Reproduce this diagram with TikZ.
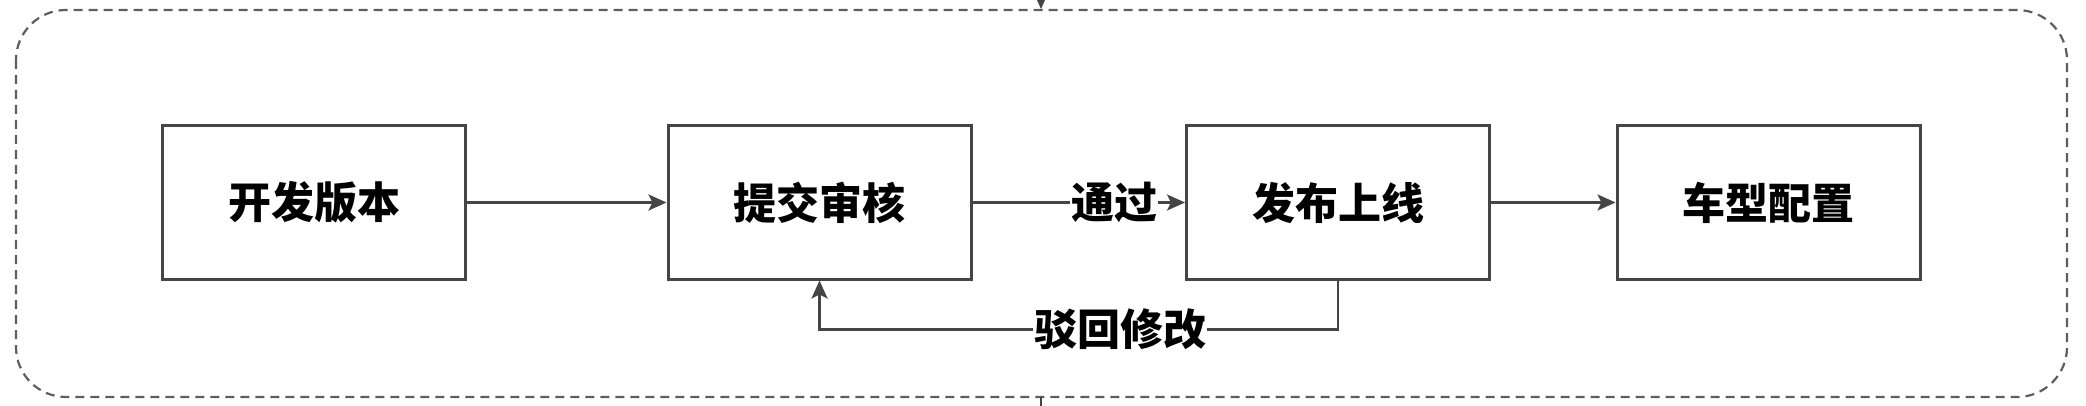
\documentclass[tikz,border=0pt]{standalone}
\usepackage{fontspec}
\newfontfamily\cjk{Noto Sans CJK SC}
\usetikzlibrary{arrows.meta,calc}
\definecolor{edgegray}{HTML}{454545}
\definecolor{dashgray}{HTML}{5E5E5E}
\tikzset{
  stepbox/.style={draw=edgegray, line width=1.5pt, fill=white, minimum width=151.5pt, minimum height=76.5pt, inner sep=0pt, font=\cjk\bfseries\fontsize{21.5}{26}\selectfont},
  arr/.style={draw=edgegray, line width=1.4pt, -{Stealth[length=9pt,width=8pt,inset=2pt]}},
  lbl/.style={fill=white, inner sep=0.5pt, font=\cjk\bfseries\fontsize{21.5}{26}\selectfont},
  group/.style={draw=dashgray, line width=1.1pt, dash pattern=on 4.5pt off 3pt, rounded corners=25pt}
}
\begin{document}
\begin{tikzpicture}[x=0.5pt,y=-0.5pt]
\useasboundingbox (0,0) rectangle (2086,406);
\draw[group] (16,10) rectangle (2067,397);
\node[stepbox] (b1) at (314,202.5) {开发版本};
\node[stepbox] (b2) at (819.5,202.5) {提交审核};
\node[stepbox] (b3) at (1338,202.5) {发布上线};
\node[stepbox] (b4) at (1768.5,202.5) {车型配置};
\draw[arr] (b1) -- (b2);
\draw[arr] (b2) -- node[lbl,pos=0.667] {通过} (b3);
\draw[arr] (b3) -- (b4);
\coordinate (r1) at ($(b3.south)+(0,49)$);
\coordinate (r2) at (b2.south |- r1);
\draw[arr] (b3.south) -- (r1) -- node[lbl,pos=0.42] {驳回修改} (r2) -- (b2.south);
\coordinate (topin) at (1041,-30);
\coordinate (topend) at (1041,9);
\draw[arr] (topin) -- (topend);
\coordinate (botstart) at (1041,397);
\coordinate (botout) at (1041,440);
\draw[draw=edgegray, line width=1.4pt] (botstart) -- (botout);
\end{tikzpicture}
\end{document}
